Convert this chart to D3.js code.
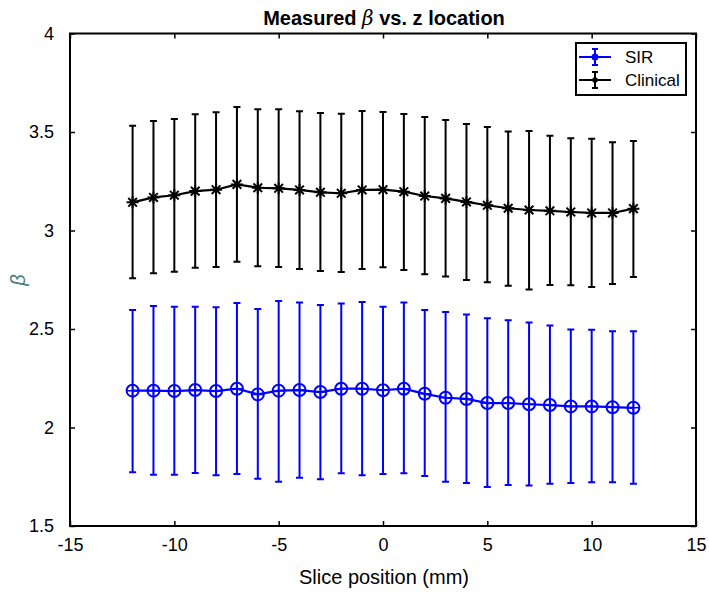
<!DOCTYPE html>
<html><head><meta charset="utf-8">
<script src="https://cdn.jsdelivr.net/npm/d3@7"></script>
<style>body{margin:0;background:#fff}svg{display:block}text{font-family:"Liberation Sans",Arial,sans-serif}</style>
</head><body><svg id="c" width="709" height="593"></svg>
<script>
const slices = [-12,-11,-10,-9,-8,-7,-6,-5,-4,-3,-2,-1,0,1,2,3,4,5,6,7,8,9,10,11,12];
const sirMean = [2.187,2.187,2.185,2.190,2.185,2.197,2.168,2.187,2.190,2.180,2.197,2.197,2.189,2.197,2.171,2.151,2.145,2.124,2.124,2.118,2.114,2.107,2.107,2.103,2.100];
const sirHigh = [2.596,2.617,2.613,2.613,2.610,2.632,2.601,2.642,2.635,2.622,2.630,2.637,2.613,2.635,2.596,2.586,2.573,2.554,2.544,2.533,2.518,2.498,2.496,2.488,2.488];
const sirLow  = [1.773,1.760,1.760,1.769,1.757,1.764,1.740,1.725,1.745,1.737,1.768,1.757,1.764,1.768,1.754,1.725,1.718,1.698,1.708,1.705,1.715,1.718,1.722,1.722,1.715];
const clinMean = [3.143,3.168,3.179,3.200,3.207,3.234,3.217,3.214,3.206,3.194,3.189,3.206,3.207,3.197,3.175,3.163,3.145,3.128,3.113,3.104,3.100,3.094,3.089,3.089,3.111];
const clinHigh = [3.532,3.556,3.566,3.590,3.600,3.627,3.615,3.615,3.605,3.596,3.593,3.607,3.602,3.591,3.576,3.561,3.541,3.525,3.502,3.505,3.481,3.468,3.466,3.448,3.454];
const clinLow  = [2.757,2.783,2.791,2.811,2.815,2.842,2.818,2.815,2.805,2.794,2.789,2.805,2.813,2.800,2.778,2.766,2.749,2.737,2.720,2.700,2.723,2.722,2.713,2.728,2.764];
const xTicks = [-15,-10,-5,0,5,10,15];
const yTicks = [1.5,2,2.5,3,3.5,4];
const seriesNames = ["SIR","Clinical"];
const seriesColors = ["#0000ff","#000000"];

const L=70, R=696, T=33.5, B=526;
const svg = d3.select("#c");
const x = d3.scaleLinear().domain([-15,15]).range([L,R]);
const y = d3.scaleLinear().domain([1.5,4]).range([B,T]);

const fmt = d => String(d);
const styleTicks = g=>{g.select(".domain").remove();g.selectAll("text").attr("font-size",18).attr("fill","#000");g.selectAll("line").attr("stroke","#000").attr("stroke-width",1.5);};
svg.append("g").attr("transform",`translate(0,${B})`)
  .call(d3.axisBottom(x).tickValues(xTicks).tickSize(-5).tickPadding(12).tickFormat(fmt)).call(styleTicks);
svg.append("g").attr("transform",`translate(0,${T})`)
  .call(d3.axisTop(x).tickValues(xTicks).tickSize(-5).tickFormat("")).call(styleTicks);
svg.append("g").attr("transform",`translate(${L},0)`)
  .call(d3.axisLeft(y).tickValues(yTicks).tickSize(-5).tickPadding(16).tickFormat(fmt)).call(styleTicks);
svg.append("g").attr("transform",`translate(${R},0)`)
  .call(d3.axisRight(y).tickValues(yTicks).tickSize(-5).tickFormat("")).call(styleTicks);
svg.append("rect").attr("x",L).attr("y",T).attr("width",R-L).attr("height",B-T)
  .attr("fill","none").attr("stroke","#000").attr("stroke-width",2);

const series = [
  {mean:sirMean, hi:sirHigh, lo:sirLow, color:seriesColors[0], marker:"circ"},
  {mean:clinMean, hi:clinHigh, lo:clinLow, color:seriesColors[1], marker:"star"}
];
const cap = 3.5;
function drawMarker(g, cx, cy, type, color){
  if(type==="circ"){
    g.append("circle").attr("cx",cx).attr("cy",cy).attr("r",6).attr("fill","none").attr("stroke",color).attr("stroke-width",2);
    g.append("path").attr("d",`M${cx-6},${cy}H${cx+6}M${cx},${cy-6}V${cy+6}`).attr("stroke",color).attr("stroke-width",1.5);
  } else {
    const r=6, d=r*0.72;
    g.append("path").attr("d",`M${cx-r},${cy}H${cx+r}M${cx},${cy-r}V${cy+r}M${cx-d},${cy-d}L${cx+d},${cy+d}M${cx-d},${cy+d}L${cx+d},${cy-d}`)
      .attr("stroke",color).attr("stroke-width",2);
  }
}
series.forEach(s=>{
  const g = svg.append("g");
  slices.forEach((v,i)=>{
    const cx=x(v);
    g.append("path").attr("d",`M${cx},${y(s.hi[i])}V${y(s.lo[i])}M${cx-cap},${y(s.hi[i])}H${cx+cap}M${cx-cap},${y(s.lo[i])}H${cx+cap}`)
      .attr("stroke",s.color).attr("stroke-width",2).attr("fill","none");
  });
  g.append("path").datum(slices.map((v,i)=>[v,s.mean[i]]))
    .attr("d",d3.line().x(d=>x(d[0])).y(d=>y(d[1]))).attr("fill","none").attr("stroke",s.color).attr("stroke-width",2.2);
  slices.forEach((v,i)=>drawMarker(g,x(v),y(s.mean[i]),s.marker,s.color));
});

// legend
const lg = svg.append("g");
lg.append("rect").attr("x",576).attr("y",43).attr("width",110).attr("height",52).attr("fill","#fff").attr("stroke","#000").attr("stroke-width",2);
seriesNames.forEach((n,i)=>{
  const yy = 57 + i*23, c=seriesColors[i];
  lg.append("path").attr("d",`M579,${yy}H611M595,${yy-8}V${yy+8}M592,${yy-8}H598M592,${yy+8}H598`).attr("stroke",c).attr("stroke-width",2);
  lg.append("circle").attr("cx",595).attr("cy",yy).attr("r",i===0?3.5:2.8).attr("fill",c);
  lg.append("text").attr("x",625).attr("y",yy+6).attr("font-size",17).text(n);
});

// title and labels
const title = svg.append("text").attr("x",384).attr("y",25).attr("text-anchor","middle").attr("font-size",20).attr("font-weight","bold");
title.append("tspan").text("Measured ");
title.append("tspan").attr("font-family","'DejaVu Serif',serif").attr("font-style","italic").attr("font-weight","normal").text("β");
title.append("tspan").text(" vs. z location");
svg.append("text").attr("x",384).attr("y",584).attr("text-anchor","middle").attr("font-size",20).text("Slice position (mm)");
svg.append("text").attr("transform","translate(25,280) rotate(-90)").attr("text-anchor","middle").attr("font-size",20)
  .attr("font-family","'DejaVu Serif',serif").attr("font-style","italic").attr("fill","#4a7a7a").text("β");
</script></body></html>
